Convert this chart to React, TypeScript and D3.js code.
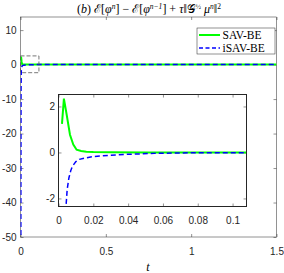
import { useRef, useEffect } from "react";
import * as d3 from "d3";

// energy difference, SAV-BE (green solid)
const tSav = [0.002, 0.0031, 0.0047, 0.0066, 0.0085, 0.0104, 0.013, 0.016, 0.02, 0.03, 0.05, 0.1, 0.5, 1.0, 1.5];
const eSav = [1.24, 2.34, 1.64, 0.77, 0.34, 0.12, 0.06, 0.03, 0.015, 0.006, 0.002, 0, 0, 0, 0];

// energy difference, iSAV-BE (blue dashed)
const tIsav = [0.001, 0.002, 0.003, 0.0043, 0.005, 0.006, 0.007, 0.008, 0.01, 0.012, 0.016, 0.02, 0.03, 0.04, 0.055, 0.07, 0.09, 0.3, 0.6, 1.0, 1.5];
const eIsav = [-300, -40, -8, -2.35, -1.6, -1.1, -0.8, -0.6, -0.4, -0.3, -0.23, -0.18, -0.12, -0.08, -0.04, -0.02, -0.01, 0, 0, 0, 0];

const xTicks = [0, 0.5, 1, 1.5];
const yTicks = [10, 0, -10, -20, -30, -40, -50];
const xTicksInset = [0, 0.02, 0.04, 0.06, 0.08, 0.1];
const yTicksInset = [-2, 0, 2];
const legendNames = ["SAV-BE", "iSAV-BE"];

const App = () => {
  const svgRef = useRef(null);

  useEffect(() => {
    const root = d3.select(svgRef.current);
    root.selectAll("*").remove();

    const width = 284;
    const height = 273;
    const axisColor = "#262626";
    const sans = "'Liberation Sans', Arial, sans-serif";
    const serif = "'Liberation Serif', 'DejaVu Serif', serif";

    const svg = root.attr("width", width).attr("height", height);

    const x = d3.scaleLinear().domain([0, 1.5]).range([20.5, 276.5]);
    const y = d3.scaleLinear().domain([-50, 13.8]).range([237, 17]);

    const xi = d3.scaleLinear().domain([0, 0.108]).range([58.5, 246.5]);
    const yi = d3.scaleLinear().domain([-2.35, 2.52]).range([206.5, 94.5]);

    const sav = tSav.map((t, i) => [t, eSav[i]]);
    const isav = tIsav.map((t, i) => [t, eIsav[i]]);

    const defs = svg.append("defs");
    defs
      .append("clipPath")
      .attr("id", "clip-main")
      .append("rect")
      .attr("x", x(0))
      .attr("y", y(13.8))
      .attr("width", x(1.5) - x(0))
      .attr("height", y(-50) - y(13.8));
    defs
      .append("clipPath")
      .attr("id", "clip-inset")
      .append("rect")
      .attr("x", xi(0))
      .attr("y", yi(2.52))
      .attr("width", xi(0.108) - xi(0))
      .attr("height", yi(-2.35) - yi(2.52));

    const styleAxis = (g, hideLabels) => {
      g.select(".domain").remove();
      g.selectAll("line").attr("stroke", axisColor).attr("stroke-width", 0.5);
      g.selectAll("text")
        .attr("fill", axisColor)
        .style("font-family", sans)
        .style("font-size", "10px");
      if (hideLabels) g.selectAll("text").remove();
    };

    // main axes
    const main = svg.append("g");
    main
      .append("g")
      .attr("transform", `translate(0,${y(-50)})`)
      .call(d3.axisBottom(x).tickValues(xTicks).tickSize(-3).tickPadding(11).tickFormat((d) => String(d)))
      .call((g) => styleAxis(g, false));
    main
      .append("g")
      .attr("transform", `translate(0,${y(13.8)})`)
      .call(d3.axisTop(x).tickValues(xTicks).tickSize(-3))
      .call((g) => styleAxis(g, true));
    main
      .append("g")
      .attr("transform", `translate(${x(0)},0)`)
      .call(d3.axisLeft(y).tickValues(yTicks).tickSize(-3).tickPadding(4).tickFormat((d) => String(d)))
      .call((g) => styleAxis(g, false));
    main
      .append("g")
      .attr("transform", `translate(${x(1.5)},0)`)
      .call(d3.axisRight(y).tickValues(yTicks).tickSize(-3))
      .call((g) => styleAxis(g, true));
    main
      .append("rect")
      .attr("x", x(0))
      .attr("y", y(13.8))
      .attr("width", x(1.5) - x(0))
      .attr("height", y(-50) - y(13.8))
      .attr("fill", "none")
      .attr("stroke", axisColor)
      .attr("stroke-width", 0.5);

    const line = d3
      .line()
      .x((d) => x(d[0]))
      .y((d) => y(d[1]));

    const mainLines = main.append("g").attr("clip-path", "url(#clip-main)");
    mainLines
      .append("path")
      .attr("d", line(sav))
      .attr("fill", "none")
      .attr("stroke", "#00ff00")
      .attr("stroke-width", 2);
    mainLines
      .append("path")
      .attr("d", line(isav))
      .attr("fill", "none")
      .attr("stroke", "#0000ff")
      .attr("stroke-width", 1.5)
      .attr("stroke-dasharray", "5,3");

    // zoom region box
    main
      .append("rect")
      .attr("x", x(0))
      .attr("y", y(2.52))
      .attr("width", x(0.108) - x(0))
      .attr("height", y(-2.35) - y(2.52))
      .attr("fill", "none")
      .attr("stroke", "#555")
      .attr("stroke-width", 0.8)
      .attr("stroke-dasharray", "4,2");

    // title
    const title = svg
      .append("text")
      .attr("x", 149)
      .attr("y", 13)
      .attr("text-anchor", "middle")
      .attr("fill", "#000")
      .style("font-family", serif)
      .style("font-size", "12px");
    title.append("tspan").text("(");
    title.append("tspan").style("font-style", "italic").text("b");
    title.append("tspan").text(") ℰ[");
    title.append("tspan").style("font-style", "italic").text("φ");
    title.append("tspan").attr("dy", -4).style("font-size", "7.5px").style("font-style", "italic").text("n");
    title.append("tspan").attr("dy", 4).text("] − ℰ[");
    title.append("tspan").style("font-style", "italic").text("φ");
    title.append("tspan").attr("dy", -4).style("font-size", "7.5px").style("font-style", "italic").text("n−1");
    title.append("tspan").attr("dy", 4).text("] + ");
    title.append("tspan").style("font-style", "italic").text("τ");
    title.append("tspan").text("‖𝒢");
    title.append("tspan").attr("dy", -4).style("font-size", "7px").text("½");
    title.append("tspan").attr("dy", 4).style("font-style", "italic").text(" μ");
    title.append("tspan").attr("dy", -4).style("font-size", "7.5px").style("font-style", "italic").text("n");
    title.append("tspan").attr("dy", 4).text("‖");
    title.append("tspan").attr("dy", -4).style("font-size", "7.5px").text("2");

    // x label
    svg
      .append("text")
      .attr("x", 148)
      .attr("y", 271)
      .attr("text-anchor", "middle")
      .style("font-family", serif)
      .style("font-style", "italic")
      .style("font-size", "12px")
      .text("t");

    // legend
    const legend = svg.append("g");
    legend
      .append("rect")
      .attr("x", 197)
      .attr("y", 28)
      .attr("width", 78)
      .attr("height", 26)
      .attr("fill", "#fff")
      .attr("stroke", axisColor)
      .attr("stroke-width", 0.5);
    const legendY = [35, 48];
    legendNames.forEach((name, i) => {
      legend
        .append("line")
        .attr("x1", 199)
        .attr("x2", 220)
        .attr("y1", legendY[i])
        .attr("y2", legendY[i])
        .attr("stroke", i === 0 ? "#00ff00" : "#0000ff")
        .attr("stroke-width", i === 0 ? 2 : 1.5)
        .attr("stroke-dasharray", i === 0 ? null : "4,2.5");
      legend
        .append("text")
        .attr("x", 222.5)
        .attr("y", legendY[i] + 3.8)
        .style("font-family", serif)
        .style("font-size", "11.5px")
        .text(name);
    });

    // inset
    const inset = svg.append("g");
    inset
      .append("rect")
      .attr("x", xi(0))
      .attr("y", yi(2.52))
      .attr("width", xi(0.108) - xi(0))
      .attr("height", yi(-2.35) - yi(2.52))
      .attr("fill", "#fff");
    inset
      .append("g")
      .attr("transform", `translate(0,${yi(-2.35)})`)
      .call(d3.axisBottom(xi).tickValues(xTicksInset).tickSize(-3).tickPadding(10).tickFormat((d) => String(d)))
      .call((g) => styleAxis(g, false));
    inset
      .append("g")
      .attr("transform", `translate(0,${yi(2.52)})`)
      .call(d3.axisTop(xi).tickValues(xTicksInset).tickSize(-3))
      .call((g) => styleAxis(g, true));
    inset
      .append("g")
      .attr("transform", `translate(${xi(0)},0)`)
      .call(d3.axisLeft(yi).tickValues(yTicksInset).tickSize(-3).tickPadding(3.5).tickFormat((d) => String(d)))
      .call((g) => styleAxis(g, false));
    inset
      .append("g")
      .attr("transform", `translate(${xi(0.108)},0)`)
      .call(d3.axisRight(yi).tickValues(yTicksInset).tickSize(-3))
      .call((g) => styleAxis(g, true));

    const lineInset = d3
      .line()
      .x((d) => xi(d[0]))
      .y((d) => yi(d[1]));

    const insetLines = inset.append("g").attr("clip-path", "url(#clip-inset)");
    insetLines
      .append("path")
      .attr("d", lineInset(sav))
      .attr("fill", "none")
      .attr("stroke", "#00ff00")
      .attr("stroke-width", 2);
    insetLines
      .append("path")
      .attr("d", lineInset(isav))
      .attr("fill", "none")
      .attr("stroke", "#0000ff")
      .attr("stroke-width", 1.5)
      .attr("stroke-dasharray", "5,3");

    inset
      .append("rect")
      .attr("x", xi(0))
      .attr("y", yi(2.52))
      .attr("width", xi(0.108) - xi(0))
      .attr("height", yi(-2.35) - yi(2.52))
      .attr("fill", "none")
      .attr("stroke", axisColor)
      .attr("stroke-width", 1);
  }, []);

  return (
    <div style={{ position: "absolute", left: 0, top: 0, width: 284, height: 273, background: "#fff" }}>
      <svg ref={svgRef}></svg>
    </div>
  );
};

export default App;
